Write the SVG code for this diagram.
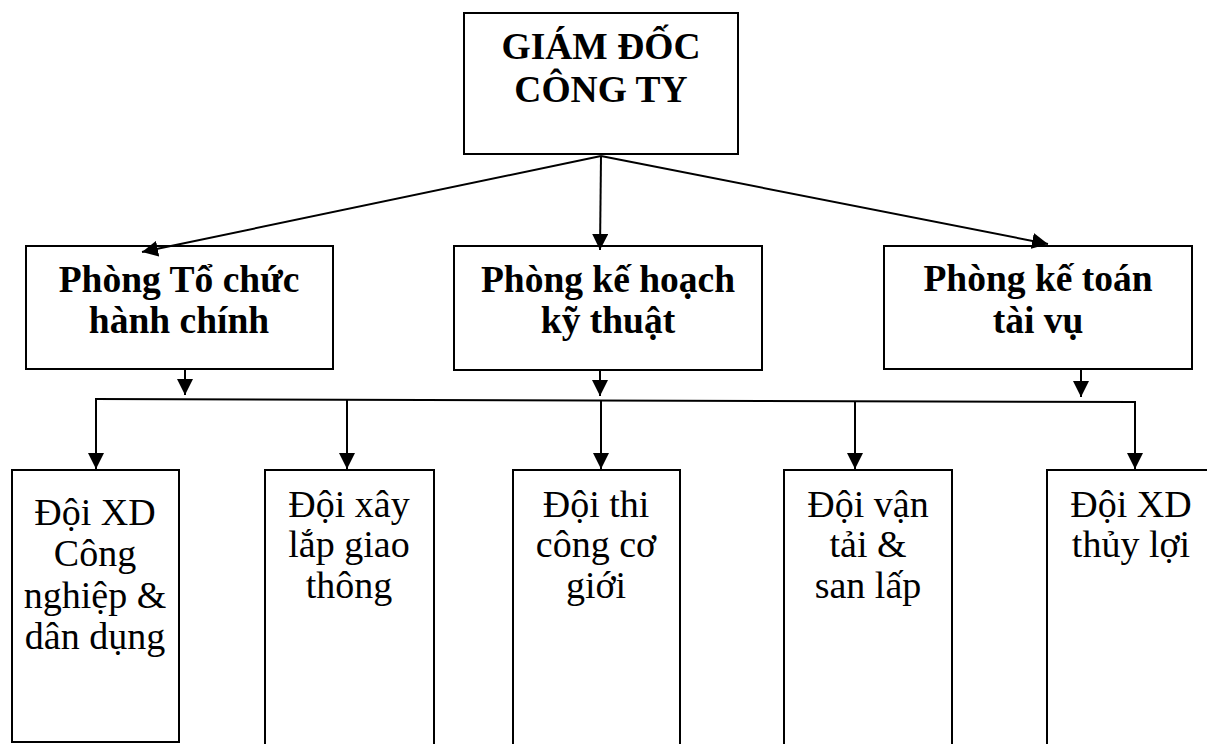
<svg xmlns="http://www.w3.org/2000/svg" width="1207" height="744" viewBox="0 0 1207 744">
<style>
.box{fill:#fff;stroke:#000;stroke-width:2}
.hb{font-family:"Liberation Serif","Times New Roman",serif;font-weight:bold;font-size:37.5px;fill:#000;text-anchor:middle}
.t{font-family:"Liberation Serif","Times New Roman",serif;font-size:38px;fill:#000;text-anchor:middle}
.ln{stroke:#000;stroke-width:2;fill:none}
</style>
<defs>
<marker id="ah" viewBox="0 0 16 16" refX="16" refY="8" markerWidth="16" markerHeight="16" markerUnits="userSpaceOnUse" orient="auto">
<path d="M0,0 L16,8 L0,16 z" fill="#000"/>
</marker>
</defs>
<rect width="1207" height="744" fill="#fff"/>
<g id="giam-doc">
<rect class="box" x="464" y="13" width="274" height="141"/>
<text class="hb" x="601" y="59">GIÁM ĐỐC</text>
<text class="hb" x="601" y="102">CÔNG TY</text>
</g>
<g id="phong-tchc">
<rect class="box" x="26" y="246" width="307" height="123"/>
<text class="hb" x="179" y="292">Phòng Tổ chức</text>
<text class="hb" x="179" y="333">hành chính</text>
</g>
<g id="phong-khkt">
<rect class="box" x="454" y="246" width="308" height="124"/>
<text class="hb" x="608" y="292">Phòng kế hoạch</text>
<text class="hb" x="608" y="333">kỹ thuật</text>
</g>
<g id="phong-ktv">
<rect class="box" x="884" y="246" width="308" height="123"/>
<text class="hb" x="1038" y="291">Phòng kế toán</text>
<text class="hb" x="1038" y="333">tài vụ</text>
</g>
<g id="doi-xd-cn">
<rect class="box" x="12" y="470" width="167" height="272"/>
<text class="t" x="95" y="525">Đội XD</text>
<text class="t" x="95" y="566">Công</text>
<text class="t" x="95" y="608">nghiệp &amp;</text>
<text class="t" x="95" y="649">dân dụng</text>
</g>
<g id="doi-xlgt">
<rect class="box" x="265" y="470" width="169" height="300"/>
<text class="t" x="349" y="517">Đội xây</text>
<text class="t" x="349" y="557">lắp giao</text>
<text class="t" x="349" y="598">thông</text>
</g>
<g id="doi-tccg">
<rect class="box" x="513" y="470" width="167" height="300"/>
<text class="t" x="596" y="517">Đội thi</text>
<text class="t" x="596" y="557">công cơ</text>
<text class="t" x="596" y="598">giới</text>
</g>
<g id="doi-vtsl">
<rect class="box" x="784" y="470" width="168" height="300"/>
<text class="t" x="868" y="517">Đội vận</text>
<text class="t" x="868" y="557">tải &amp;</text>
<text class="t" x="868" y="598">san lấp</text>
</g>
<g id="doi-xd-tl">
<rect class="box" x="1047" y="470" width="168" height="300"/>
<text class="t" x="1131" y="517">Đội XD</text>
<text class="t" x="1131" y="557">thủy lợi</text>
</g>
<g id="connectors">
<line class="ln" x1="601" y1="156" x2="142" y2="252" marker-end="url(#ah)"/>
<line class="ln" x1="601" y1="156" x2="600" y2="250" marker-end="url(#ah)"/>
<line class="ln" x1="601" y1="156" x2="1048" y2="244" marker-end="url(#ah)"/>
<line class="ln" x1="185" y1="370" x2="185" y2="395" marker-end="url(#ah)"/>
<line class="ln" x1="600" y1="371" x2="600" y2="396" marker-end="url(#ah)"/>
<line class="ln" x1="1081" y1="370" x2="1081" y2="397" marker-end="url(#ah)"/>
<line class="ln" x1="95" y1="399" x2="1136" y2="402"/>
<line class="ln" x1="96" y1="399" x2="96" y2="469" marker-end="url(#ah)"/>
<line class="ln" x1="347" y1="400" x2="347" y2="469" marker-end="url(#ah)"/>
<line class="ln" x1="601" y1="400" x2="601" y2="469" marker-end="url(#ah)"/>
<line class="ln" x1="855" y1="401" x2="855" y2="469" marker-end="url(#ah)"/>
<line class="ln" x1="1135" y1="402" x2="1135" y2="469" marker-end="url(#ah)"/>
</g>
</svg>
